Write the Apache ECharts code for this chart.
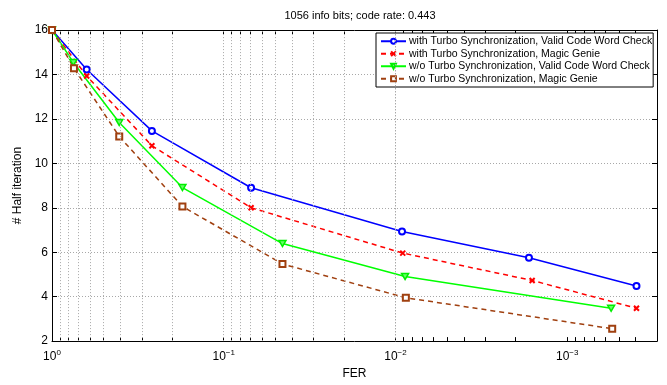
<!DOCTYPE html>
<html>
<head>
<meta charset="utf-8">
<script src="https://cdn.jsdelivr.net/npm/echarts@6/dist/echarts.min.js"></script>
<style>
html,body{margin:0;padding:0;background:#fff;}
#chart{width:667px;height:385px;}
</style>
</head>
<body>
<div id="chart"></div>
<script>
// ---- data ----
const seriesNames = [
  'with Turbo Synchronization, Valid Code Word Check',
  'with Turbo Synchronization, Magic Genie',
  'w/o Turbo Synchronization, Valid Code Word Check',
  'w/o Turbo Synchronization, Magic Genie'
];
const ferTsVcc   = [1, 0.628, 0.262, 0.0693, 0.00916, 0.00167, 0.000395];
const halfTsVcc  = [16, 14.22, 11.46, 8.90, 6.93, 5.75, 4.48];
const ferTsMg    = [1, 0.628, 0.262, 0.0693, 0.00907, 0.0016, 0.000395];
const halfTsMg   = [16, 13.93, 10.79, 8.00, 5.96, 4.73, 3.48];
const ferNoVcc   = [1, 0.751, 0.406, 0.174, 0.0455, 0.00879, 0.000555];
const halfNoVcc  = [16, 14.54, 11.84, 8.91, 6.39, 4.91, 3.48];
const ferNoMg    = [1, 0.745, 0.406, 0.174, 0.0455, 0.0087, 0.000547];
const halfNoMg   = [16, 14.28, 11.21, 8.06, 5.47, 3.95, 2.56];

const xMin = 3e-4, xMax = 1;
const decadeTicks = [1, 0.1, 0.01, 0.001];
const mantissas = [2, 3, 4, 5, 6, 7, 8, 9];

// all grid positions (decades and 2..9 x decade), inside axis range
const allXTicks = [];
[-4, -3, -2, -1].forEach(function (e) {
  allXTicks.push(Math.pow(10, e + 1));
  mantissas.forEach(function (m) {
    const v = m * Math.pow(10, e);
    if (v >= xMin && v <= xMax) allXTicks.push(v);
  });
});

function pairs(xs, ys) { return xs.map(function (x, i) { return [x, ys[i]]; }); }

const font = 'Liberation Sans, Arial, Helvetica, sans-serif';

function decadeLabel(v) {
  const e = Math.round(Math.log10(v));
  if (Math.abs(Math.log10(v) - e) > 1e-6) return '';
  const s = e === 0 ? '0' : '\u2212' + String(-e);
  return '{b|10}{s|' + s + '}';
}

const xAxisBase = {
  type: 'log', logBase: 10, min: xMin, max: xMax, inverse: true,
  axisLine: { show: true, onZero: false, lineStyle: { color: '#000', width: 1 } },
  axisTick: { show: true, inside: true, length: 4, customValues: allXTicks, lineStyle: { color: '#000' } },
  splitLine: { show: false },
  minorTick: { show: false },
};

const chart = echarts.init(document.getElementById('chart'), null, { renderer: 'canvas' });
const option = {
  animation: false,
  backgroundColor: '#fff',
  textStyle: { fontFamily: font },
  title: {
    text: '1056 info bits; code rate: 0.443',
    left: 355, top: 5, textAlign: 'center',
    textStyle: { fontSize: 11, fontWeight: 'normal', color: '#000', fontFamily: font }
  },
  grid: { left: 52, right: 10, top: 30, bottom: 35.5, containLabel: false },
  legend: {
    orient: 'vertical',
    left: 376, top: 33,
    backgroundColor: '#fff',
    borderColor: '#000', borderWidth: 1,
    padding: [2, 1, 2, 4],
    itemGap: 0,
    itemWidth: 25, itemHeight: 6,
    textStyle: { fontSize: 10.5, lineHeight: 12.5, color: '#000', fontFamily: font, padding: [0, 0, 0, -2] },
    data: seriesNames
  },
  xAxis: [
    Object.assign({}, xAxisBase, {
      position: 'bottom',
      name: 'FER', nameLocation: 'middle', nameGap: 21,
      nameTextStyle: { fontSize: 12, color: '#000', fontFamily: font },
      axisLabel: {
        show: true, margin: 8, color: '#000', customValues: decadeTicks,
        formatter: decadeLabel,
        rich: {
          b: { fontSize: 12, color: '#000', fontFamily: font },
          s: { fontSize: 8, color: '#000', fontFamily: font, padding: [0, 0, 8, 0] }
        }
      }
    }),
    Object.assign({}, xAxisBase, {
      position: 'top',
      axisLabel: { show: false }
    })
  ],
  yAxis: [
    {
      type: 'value', min: 2, max: 16, interval: 2, position: 'left',
      name: '# Half iteration', nameLocation: 'middle', nameGap: 21,
      nameTextStyle: { fontSize: 12, color: '#000', fontFamily: font },
      axisLine: { show: true, lineStyle: { color: '#000' } },
      axisTick: { show: true, inside: true, length: 5, lineStyle: { color: '#000' } },
      axisLabel: { show: true, margin: 4, fontSize: 12, color: '#000', fontFamily: font },
      splitLine: { show: true, lineStyle: { color: '#a8a8a8', type: [1, 2], width: 1 } }
    },
    {
      type: 'value', min: 2, max: 16, interval: 2, position: 'right',
      axisLine: { show: true, lineStyle: { color: '#000' } },
      axisTick: { show: true, inside: true, length: 5, lineStyle: { color: '#000' } },
      axisLabel: { show: false },
      splitLine: { show: false }
    }
  ],
  series: [
    {
      name: '__xgrid', type: 'line', data: [], xAxisIndex: 0, yAxisIndex: 0,
      silent: true, legendHoverLink: false,
      markLine: {
        silent: true, symbol: ['none', 'none'], animation: false,
        label: { show: false },
        lineStyle: { color: '#a8a8a8', type: [1, 2], width: 1 },
        data: allXTicks.filter(function (v) { return v < xMax && v > xMin; }).map(function (v) { return { xAxis: v }; })
      }
    },
    {
      name: seriesNames[0], type: 'line', data: pairs(ferTsVcc, halfTsVcc),
      symbol: 'emptyCircle', symbolSize: 6, showAllSymbol: true,
      lineStyle: { color: '#0000ff', width: 1.5 },
      itemStyle: { color: '#0000ff', borderColor: '#0000ff', borderWidth: 1.5 }
    },
    {
      name: seriesNames[1], type: 'line', data: pairs(ferTsMg, halfTsMg),
      symbol: 'path://M0,0L10,10M10,0L0,10', symbolSize: 5, showAllSymbol: true,
      lineStyle: { color: '#ff0000', width: 1.5, type: [5, 4] },
      itemStyle: { color: '#ff0000', borderColor: '#ff0000', borderWidth: 2 }
    },
    {
      name: seriesNames[2], type: 'line', data: pairs(ferNoVcc, halfNoVcc),
      symbol: 'path://M0,0L10,0L5,9Z', symbolSize: [7, 6], showAllSymbol: true,
      lineStyle: { color: '#00ff00', width: 1.5 },
      itemStyle: { color: '#66ff66', borderColor: '#00ee00', borderWidth: 1.5 }
    },
    {
      name: seriesNames[3], type: 'line', data: pairs(ferNoMg, halfNoMg),
      symbol: 'emptyRect', symbolSize: 6, showAllSymbol: true,
      lineStyle: { color: '#a04010', width: 1.5, type: [5, 4] },
      itemStyle: { color: '#a04010', borderColor: '#a04010', borderWidth: 1.5 }
    }
  ]
};
chart.setOption(option);
</script>
</body>
</html>
